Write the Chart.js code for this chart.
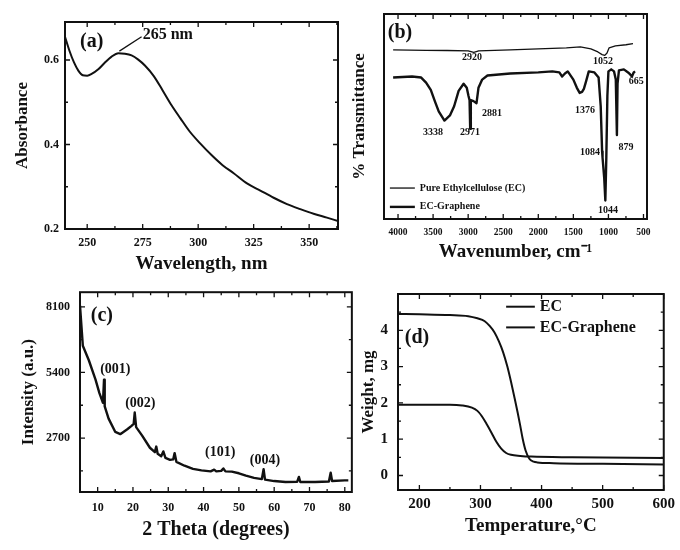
<!DOCTYPE html>
<html>
<head>
<meta charset="utf-8">
<script src="https://cdn.jsdelivr.net/npm/chart.js@4.4.1/dist/chart.umd.min.js"></script>
<style>
  body { margin: 0; background: #fff; }
  #wrap { position: relative; width: 680px; height: 550px; }
  canvas { position: absolute; }
</style>
</head>
<body>
<div id="wrap">
  <canvas id="chartA" width="345" height="275" style="left:0;top:0"></canvas>
  <canvas id="chartB" width="335" height="275" style="left:345px;top:0"></canvas>
  <canvas id="chartC" width="360" height="275" style="left:0;top:275px"></canvas>
  <canvas id="chartD" width="320" height="275" style="left:360px;top:275px"></canvas>
</div>
<script>
// (a) UV-vis absorbance
const wavelengthA = [240,242,244,246,248,250,252,255,258,261,264,267,270,273,276,280,284,288,292,296,301,306,311,316,322,328,334,340,346,352,358,363];
const absorbanceA = [0.655,0.622,0.595,0.575,0.564,0.563,0.567,0.578,0.594,0.608,0.616,0.615,0.611,0.601,0.587,0.562,0.528,0.493,0.462,0.432,0.402,0.375,0.351,0.332,0.308,0.291,0.274,0.259,0.247,0.236,0.227,0.219];
const ticksAx = [250,275,300,325,350];
const ticksAy = [0.2,0.4,0.6];

// (b) FTIR
const wavenumEC = [4070,3600,3300,3000,2920,2850,2400,2000,1600,1400,1250,1150,1090,1052,1020,990,900,750,650];
const transEC   = [82.5,82.3,82.2,82.0,81.3,82.0,82.5,83.0,83.5,84.0,83.0,81.5,80.2,79.8,81.0,83.5,84.5,85.0,85.5];
const wavenumG = [4070,3800,3670,3600,3533,3470,3420,3338,3260,3200,3136,3065,3020,2995,2980,2971,2962,2924,2881,2853,2800,2725,2400,2000,1800,1700,1660,1620,1580,1500,1450,1410,1376,1350,1320,1280,1200,1140,1110,1090,1084,1060,1044,1030,1015,1000,960,920,895,879,870,850,780,720,690,665,640,620];
const transG   = [69,69.5,69,66.5,63,57,52.5,48,50.5,55,62.5,66,64,60,58,44,58,57.5,56.5,64,68,70,71,71.5,72,71.5,69.5,71,72,68,64,61.5,62,63.5,67,72,71.5,69,55,33,30,20,9,30,60,72,73,72,68,41,66,72.5,73,71.5,70.5,69.5,71.5,72];
const ticksBx = [4000,3500,3000,2500,2000,1500,1000,500];
const peaksB = [
  { text: '2920', x: 2945, y: 79 }, { text: '1052', x: 1076, y: 77 },
  { text: '3338', x: 3501, y: 42 }, { text: '2971', x: 2973, y: 42 },
  { text: '2881', x: 2659, y: 51.7 }, { text: '1376', x: 1333, y: 53 },
  { text: '1084', x: 1261, y: 32.7 }, { text: '879', x: 748, y: 35 },
  { text: '1044', x: 1005, y: 4.4 }, { text: '665', x: 605, y: 67 }
];

// (c) XRD
const thetaC = [5,5.8,7.5,9.4,10.5,11.5,11.8,12.0,13.1,15,16.4,18.4,19.6,20.2,20.5,20.9,22.6,24.8,26.2,26.6,27.0,28.0,28.6,29.2,30.5,31.4,31.8,32.3,34.6,37,39.4,42,43,43.6,45,45.6,46.2,48,50,52,54.3,56.5,57.0,57.4,60,63.2,66.5,67,67.4,71.6,75.5,76,76.4,80,81];
const intensityC = [8150,6500,5900,5100,4550,4150,5100,4000,3500,2950,2860,3060,3200,3280,3750,3150,2800,2300,2120,2350,2050,1950,2150,1880,1800,1820,2080,1720,1560,1430,1370,1330,1400,1330,1350,1450,1330,1320,1250,1150,1060,1010,1420,990,930,890,900,1100,890,890,910,1270,930,960,960];
const ticksCx = [10,20,30,40,50,60,70,80];
const ticksCy = [2700,5400,8100];
const planesC = [
  { text: '(001)', x: 15, y: 5520 }, { text: '(002)', x: 22.1, y: 4110 },
  { text: '(101)', x: 44.7, y: 2090 }, { text: '(004)', x: 57.4, y: 1770 }
];

// (d) TGA
const tempEC = [165,200,250,280,295,307,315,323,330,337,344,350,356,361,365,369,374,380,387,393,420,500,600];
const weightEC = [4.45,4.44,4.42,4.39,4.33,4.25,4.12,3.94,3.70,3.40,3.00,2.58,2.12,1.72,1.38,1.02,0.68,0.46,0.38,0.36,0.34,0.32,0.30];
const tempECG = [165,200,250,270,286,295,302,310,318,326,334,342,350,365,383,450,600];
const weightECG = [1.95,1.95,1.95,1.93,1.87,1.78,1.64,1.42,1.18,0.93,0.74,0.62,0.57,0.54,0.52,0.50,0.48];
const ticksDx = [200,300,400,500,600];
const ticksDy = [0,1,2,3,4];

const SERIF = '"Liberation Serif", "Times New Roman", serif';
Chart.defaults.font.family = SERIF;
Chart.defaults.font.weight = 'bold';
Chart.defaults.color = '#111';
Chart.defaults.animation = false;
Chart.defaults.responsive = false;
Chart.defaults.plugins.legend.display = false;
Chart.defaults.plugins.tooltip.enabled = false;
Chart.defaults.elements.point.radius = 0;

const pts = (xs, ys) => xs.map((x, i) => ({ x, y: ys[i] }));

// major + half-step minor positions inside the axis range
function marks(scale) {
  const maj = scale.ticks.map(t => t.value).sort((a, b) => a - b);
  if (maj.length < 2) return maj.map(v => ({ v, major: true }));
  const half = (maj[1] - maj[0]) / 2;
  const lo = Math.min(scale.min, scale.max), hi = Math.max(scale.min, scale.max);
  const out = [];
  const n0 = Math.ceil((lo - maj[0]) / half - 1e-6), n1 = Math.floor((hi - maj[0]) / half + 1e-6);
  for (let i = n0; i <= n1; i++) out.push({ v: maj[0] + i * half, major: i % 2 === 0 });
  return out;
}

const framePlugin = {
  id: 'frame',
  afterDraw(chart, args, opts) {
    const { ctx, chartArea: a, scales: { x, y } } = chart;
    ctx.save();
    ctx.strokeStyle = '#111';
    ctx.lineWidth = 2;
    ctx.strokeRect(a.left, a.top, a.right - a.left, a.bottom - a.top);
    ctx.lineWidth = 1.3;
    ctx.beginPath();
    marks(x).forEach(m => {
      const p = x.getPixelForValue(m.v), len = m.major ? 5 : 3;
      ctx.moveTo(p, a.bottom); ctx.lineTo(p, a.bottom - len);
      ctx.moveTo(p, a.top); ctx.lineTo(p, a.top + len);
    });
    if (opts.yMarks !== false) {
      marks(y).forEach(m => {
        const p = y.getPixelForValue(m.v), len = m.major ? 5 : 3;
        ctx.moveTo(a.left, p); ctx.lineTo(a.left + len, p);
        ctx.moveTo(a.right, p); ctx.lineTo(a.right - len, p);
      });
    }
    ctx.stroke();
    ctx.restore();
  }
};

const notesPlugin = {
  id: 'notes',
  afterDatasetsDraw(chart, args, opts) {
    const { ctx, scales: { x, y } } = chart;
    ctx.save();
    ctx.fillStyle = '#111';
    ctx.strokeStyle = '#111';
    ctx.textBaseline = 'middle';
    (opts.lines || []).forEach(l => {
      ctx.lineWidth = 1.3;
      ctx.beginPath();
      ctx.moveTo(x.getPixelForValue(l.x0), y.getPixelForValue(l.y0));
      ctx.lineTo(x.getPixelForValue(l.x1), y.getPixelForValue(l.y1));
      ctx.stroke();
    });
    (opts.items || []).forEach(n => {
      ctx.font = `bold ${n.size || opts.size}px ${SERIF}`;
      ctx.textAlign = n.align || 'center';
      ctx.fillText(n.text, x.getPixelForValue(n.x), y.getPixelForValue(n.y));
    });
    (opts.keys || []).forEach(k => {
      const ds = chart.data.datasets[k.index];
      const py = y.getPixelForValue(k.y), x1 = x.getPixelForValue(k.x1);
      ctx.lineWidth = ds.borderWidth;
      ctx.beginPath();
      ctx.moveTo(x.getPixelForValue(k.x0), py);
      ctx.lineTo(x1, py);
      ctx.stroke();
      ctx.font = `bold ${opts.keySize}px ${SERIF}`;
      ctx.textAlign = 'left';
      ctx.fillText(ds.label, x1 + 5, py);
    });
    ctx.restore();
  }
};

Chart.register(framePlugin, notesPlugin);

function axis(min, max, ticks, o) {
  return {
    type: 'linear', min, max, reverse: !!o.reverse,
    afterBuildTicks: s => { s.ticks = ticks.map(v => ({ value: v })); },
    afterFit: s => { if (s.isHorizontal()) s.height = o.size; else s.width = o.size; },
    grid: { display: false, drawTicks: false },
    border: { display: false },
    ticks: {
      display: ticks.length > 0, autoSkip: false, maxRotation: 0, padding: o.pad,
      font: { size: o.tickSize }, callback: v => String(v)
    },
    title: { display: true, text: o.title, padding: o.titlePad, font: { size: o.titleSize, lineHeight: o.lh || 1.2 } }
  };
}

function line(label, data, width, smooth) {
  return {
    label, data, borderColor: '#111', borderWidth: width,
    borderJoinStyle: 'round', fill: false,
    cubicInterpolationMode: smooth ? 'monotone' : 'default', tension: 0
  };
}

// (a)
new Chart(document.getElementById('chartA'), {
  type: 'line',
  data: { datasets: [line('Absorbance', pts(wavelengthA, absorbanceA), 2, true)] },
  options: {
    layout: { padding: { top: 22, right: 7, left: 0, bottom: 0 } },
    scales: {
      x: axis(240, 363, ticksAx, { size: 46, pad: 7, tickSize: 12, title: 'Wavelength, nm', titleSize: 19, titlePad: { top: 0, bottom: 0 } }),
      y: axis(0.2, 0.69, ticksAy, { size: 65, pad: 6, tickSize: 12, title: 'Absorbance', titleSize: 17, titlePad: { top: 12, bottom: 0 } })
    },
    plugins: {
      notes: {
        items: [
          { text: '(a)', x: 252, y: 0.643, size: 20 },
          { text: '265 nm', x: 275, y: 0.66, size: 16, align: 'left' }
        ],
        lines: [{ x0: 264.5, y0: 0.621, x1: 274.5, y1: 0.655 }]
      }
    }
  }
});

// (b)
new Chart(document.getElementById('chartB'), {
  type: 'line',
  data: {
    datasets: [
      line('Pure Ethylcellulose (EC)', pts(wavenumEC, transEC), 1.3, false),
      line('EC-Graphene', pts(wavenumG, transG), 2.4, false)
    ]
  },
  options: {
    layout: { padding: { top: 14, right: 33, left: 0, bottom: 0 } },
    scales: {
      x: axis(450, 4200, ticksBx, { reverse: true, size: 56, pad: 8, tickSize: 9.5, title: 'Wavenumber, cm\u207B\u00B9', titleSize: 19, titlePad: { top: 0, bottom: 12 } }),
      y: axis(0, 100, [], { size: 39, pad: 0, tickSize: 10, title: '% Transmittance', titleSize: 17, titlePad: { top: 4, bottom: 0 } })
    },
    plugins: {
      frame: { yMarks: false },
      notes: {
        size: 10,
        items: [{ text: '(b)', x: 3972, y: 91, size: 20 }].concat(peaksB),
        keySize: 10,
        keys: [
          { index: 0, x0: 4116, x1: 3760, y: 15.1 },
          { index: 1, x0: 4116, x1: 3760, y: 5.9 }
        ]
      }
    }
  }
});

// (c)
new Chart(document.getElementById('chartC'), {
  type: 'line',
  data: { datasets: [line('Intensity', pts(thetaC, intensityC), 2.4, false)] },
  options: {
    layout: { padding: { top: 13, right: 8, left: 0, bottom: 0 } },
    scales: {
      x: axis(5, 82, ticksCx, { size: 58, pad: 9, tickSize: 12, title: '2 Theta (degrees)', titleSize: 20, titlePad: { top: 0, bottom: 8 } }),
      y: axis(480, 8700, ticksCy, { size: 80, pad: 10, tickSize: 12, title: 'Intensity (a.u.)', titleSize: 17, titlePad: { top: 18, bottom: 0 } })
    },
    plugins: {
      notes: {
        size: 14,
        items: [{ text: '(c)', x: 11.2, y: 7740, size: 20 }].concat(planesC)
      }
    }
  }
});

// (d)
new Chart(document.getElementById('chartD'), {
  type: 'line',
  data: {
    datasets: [
      line('EC', pts(tempEC, weightEC), 2, true),
      line('EC-Graphene', pts(tempECG, weightECG), 2, true)
    ]
  },
  options: {
    layout: { padding: { top: 5, right: 12, left: 0, bottom: 0 } },
    scales: {
      x: axis(165, 600, ticksDx, { size: 60, pad: 5, tickSize: 15, title: 'Temperature,\u00B0C', titleSize: 19, titlePad: { top: 0, bottom: 13 } }),
      y: axis(-0.4, 5.0, ticksDy, { size: 38, pad: 10, tickSize: 15, title: 'Weight, mg', titleSize: 17, lh: 1, titlePad: { top: 0, bottom: 0 } })
    },
    plugins: {
      notes: {
        items: [{ text: '(d)', x: 196, y: 3.79, size: 20 }],
        keySize: 16,
        keys: [
          { index: 0, x0: 342, x1: 389, y: 4.65 },
          { index: 1, x0: 342, x1: 389, y: 4.08 }
        ]
      }
    }
  }
});
</script>
</body>
</html>
